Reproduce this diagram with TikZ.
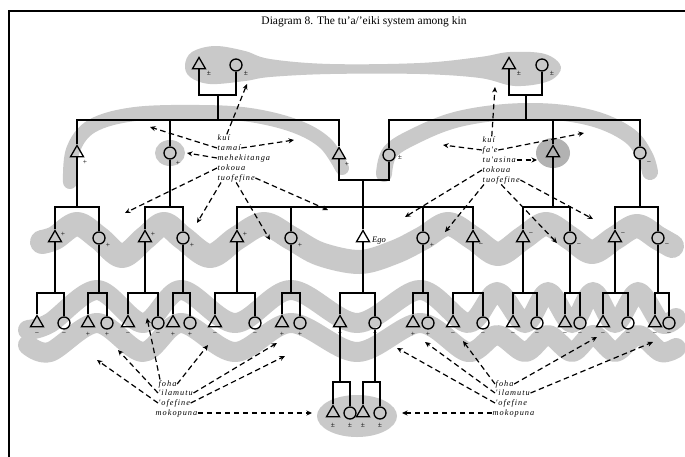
\documentclass[tikz,border=0pt]{standalone}
\usepackage{fontspec}
\setmainfont{Liberation Serif}
\newfontfamily\termfont[LetterSpace=12]{Liberation Serif}
\usetikzlibrary{shapes.geometric,arrows.meta}
\definecolor{halftone}{gray}{0.79}
\definecolor{halfdark}{gray}{0.70}
\begin{document}
\begin{tikzpicture}[x=1pt,y=-1pt,
  kin/.style={line width=1.4pt},
  person/.style={draw, line width=1.3pt, inner sep=0pt},
  male/.style={person, regular polygon, regular polygon sides=3, minimum size=15pt},
  female/.style={person, circle, minimum size=12pt},
  refarrow/.style={line width=1.2pt, dash pattern=on 5.5pt off 3.5pt, -{Stealth[length=5.5pt,width=5pt]}},
  term/.style={font=\termfont\itshape\fontsize{8.3}{9}\selectfont, inner sep=0.5pt, anchor=west},
  sgn/.style={font=\fontsize{7.5}{7.5}\selectfont, inner sep=0pt},
  band/.style={draw=halftone, line cap=round, line join=round},
]
\useasboundingbox (0,0) rectangle (685,456);
\fill[white] (0,0) rectangle (685,456);
\draw[line width=2.2pt] (9,457) -- (9,11) -- (686,11);

\node[font=\fontsize{11.5}{12}\selectfont] (title) at (364,22) {Diagram 8. The tu'a/'eiki system among kin};

% ---------- halftone groupings ----------
\fill[halftone] plot[smooth cycle, tension=0.6] coordinates {
  (185,65) (192,52) (215,46) (245,51) (270,59) (330,64) (420,63) (480,57) (510,52)
  (545,54) (561,67) (549,81) (515,86) (480,78) (420,74) (330,74) (270,77) (245,81)
  (210,84) (190,77)};
\draw[band, line width=14pt] plot[smooth, tension=0.6] coordinates {
  (70,182) (73,150) (92,126) (135,114) (200,112) (250,115) (295,126) (325,143) (342,168)};
\draw[band, line width=16pt] plot[smooth, tension=0.6] coordinates {
  (384,174) (390,152) (415,136) (455,120) (505,112) (555,112) (598,120) (630,136) (645,156) (650,172)};
\fill[halftone] (170,153) ellipse [x radius=15, y radius=13];
\fill[halfdark] (553,153) ellipse [x radius=17, y radius=15];
\draw[band, line width=24pt] plot[smooth, tension=0.55] coordinates {
  (42,242) (55,238) (77,224) (99,238) (122,256) (145,238) (164,224) (183,238) (210,256)
  (237,238) (264,224) (291,238) (320,254) (360,262) (395,252) (423,238) (448,224) (473,238)
  (498,254) (523,238) (546,224) (570,238) (592,252) (615,238) (637,226) (658,238) (672,246)};
\draw[band, line width=20pt] plot[smooth, tension=0.55] coordinates {
  (28,330) (50,323) (97,290) (143,323) (181,290) (235,323) (291,290) (357,323) (420,290)
  (468,323) (497,292) (525,323) (548,292) (572,323) (593,292) (615,323) (638,292) (661,323) (676,318)};
\draw[band, line width=20pt] plot[smooth, tension=0.55] coordinates {
  (28,345) (50,352) (97,323) (143,352) (181,323) (235,352) (291,323) (357,352) (420,323)
  (468,352) (497,335) (525,352) (548,335) (572,352) (593,335) (615,352) (638,335) (661,352) (676,348)};
\fill[halftone] (357,416) ellipse [x radius=40, y radius=21];

% ---------- generation 1 ----------
\node[male] (gfL) at (199,65) {};
\node[female] (gmL) at (236,65) {};
\node[male] (gfR) at (509,65) {};
\node[female] (gmR) at (542,65) {};
\node[sgn] (gfL-s) at (209,73) {±};
\node[sgn] (gmL-s) at (246,73) {±};
\node[sgn] (gfR-s) at (519,73) {±};
\node[sgn] (gmR-s) at (552,73) {±};
\coordinate (mL) at (218,95);
\coordinate (mR) at (526,95);
\coordinate (sL) at (218,120);
\coordinate (sR) at (526,120);
\draw[kin] (gfL.south) |- (mL) -| (gmL.south);
\draw[kin] (gfR.south) |- (mR) -| (gmR.south);
\draw[kin] (mL) -- (sL);
\draw[kin] (mR) -- (sR);

% ---------- generation 2 ----------
\node[male] (p1) at (77,153) {};
\node[female] (p2) at (170,153) {};
\node[male] (fa) at (339,155) {};
\node[female] (mo) at (389,155) {};
\node[male] (p5) at (553,153) {};
\node[female] (p6) at (640,153) {};
\node[sgn] (p1-s) at (85,162) {+};
\node[sgn] (p2-s) at (178,163) {+};
\node[sgn] (fa-s) at (347,164) {+};
\node[sgn] (mo-s) at (400,157) {±};
\node[sgn] (p6-s) at (649,163) {−};
\draw[kin] (p1.north) |- (sL) -| (fa.north);
\draw[kin] (p2.north) -- (p2.north |- sL);
\draw[kin] (mo.north) |- (sR) -| (p6.north);
\draw[kin] (p5.north) -- (p5.north |- sR);

% ---------- generation 3 ----------
\foreach \n/\x in {a1/55, b1/145, e1/237, ego/363, e5/473, f1/523, g1/615}
  \node[male] (\n) at (\x,238) {};
\foreach \n/\x in {a2/99, b2/183, e2/291, e4/423, f2/570, g2/658}
  \node[female] (\n) at (\x,238) {};
\foreach \n/\x/\y/\s in {a1/63/234/+, a2/108/245/+, b1/153/234/+, b2/192/245/+,
    e1/245/234/+, e2/300/245/+, e4/432/245/+, e5/481/245/−, f1/531/234/−,
    f2/579/245/−, g1/623/234/−, g2/667/245/−}
  \node[sgn] (\n-s) at (\x,\y) {\s};
\node[font=\itshape\fontsize{8.5}{9}\selectfont, anchor=west, inner sep=0pt] (egolabel) at (372,241) {Ego};

\coordinate (j1) at (77,207);
\coordinate (j2) at (170,207);
\coordinate (mP) at (363,180);
\coordinate (jE) at (363,207);
\coordinate (j5) at (553,207);
\coordinate (j6) at (640,207);
\draw[kin] (p1.south) -- (j1);
\draw[kin] (a1.north) |- (j1) -| (a2.north);
\draw[kin] (p2.south) -- (j2);
\draw[kin] (b1.north) |- (j2) -| (b2.north);
\draw[kin] (fa.south) |- (mP) -| (mo.south);
\draw[kin] (mP) -- (ego.north);
\draw[kin] (e1.north) |- (jE) -| (e5.north);
\draw[kin] (e2.north) -- (e2.north |- jE);
\draw[kin] (e4.north) -- (e4.north |- jE);
\draw[kin] (p5.south) -- (j5);
\draw[kin] (f1.north) |- (j5) -| (f2.north);
\draw[kin] (p6.south) -- (j6);
\draw[kin] (g1.north) |- (j6) -| (g2.north);

% ---------- generation 4 ----------
\foreach \n/\x in {k1/37, k3/88, k5/128, k7/173, k9/215, k11/282, k13/340,
    k15/413, k17/453, k19/513, k21/565, k23/603, k25/655}
  \node[male] (\n) at (\x,323) {};
\foreach \n/\x in {k2/64, k4/107, k6/158, k8/190, k10/255, k12/300, k14/375,
    k16/428, k18/483, k20/537, k22/580, k24/628, k26/669}
  \node[female] (\n) at (\x,323) {};
\foreach \n/\x/\s in {k1/37/−, k2/64/−, k3/88/+, k4/107/+, k5/128/−, k6/158/−,
    k7/173/+, k8/190/+, k9/215/−, k10/255/−, k11/282/+, k12/300/+, k13/340/−,
    k14/375/−, k15/413/+, k16/428/+, k17/453/−, k18/483/−, k19/513/−, k20/537/−,
    k21/565/−, k22/580/−, k23/603/−, k24/628/−, k25/655/−, k26/669/−}
  \node[sgn] (\n-s) at (\x,334) {\s};
\coordinate (r4) at (0,293);
\foreach \p/\m/\f in {a1/k1/k2, a2/k3/k4, b1/k5/k6, b2/k7/k8, e1/k9/k10, e2/k11/k12,
    ego/k13/k14, e4/k15/k16, e5/k17/k18, f1/k19/k20, f2/k21/k22, g1/k23/k24, g2/k25/k26} {
  \coordinate (\p-j) at (\p.south |- r4);
  \draw[kin] (\p.south) -- (\p-j);
  \draw[kin] (\m.north) |- (\p-j) -| (\f.north);
}

% ---------- generation 5 ----------
\node[male] (m1) at (333,413) {};
\node[female] (m2) at (350,413) {};
\node[male] (m3) at (363,413) {};
\node[female] (m4) at (380,413) {};
\foreach \n/\x in {m1/333, m2/350, m3/363, m4/380}
  \node[sgn] (\n-s) at (\x,425) {±};
\coordinate (r5) at (0,382);
\foreach \p/\m/\f in {k13/m1/m2, k14/m3/m4} {
  \coordinate (\p-j) at (\p.south |- r5);
  \draw[kin] (\p.south) -- (\p-j);
  \draw[kin] (\m.north) |- (\p-j) -| (\f.north);
}

% ---------- kin terms ----------
\node[term] (tl1) at (217,138) {kuí};
\node[term] (tl2) at (217,148) {tamaí};
\node[term] (tl3) at (217,158) {mehekitanga};
\node[term] (tl4) at (217,168) {tokoua};
\node[term] (tl5) at (217,178) {tuofefine};
\node[term] (tr1) at (482,140) {kuí};
\node[term] (tr2) at (482,150) {fa'e};
\node[term] (tr3) at (482,160) {tu'asina};
\node[term] (tr4) at (482,170) {tokoua};
\node[term] (tr5) at (482,180) {tuofefine};
\node[term] (bl1) at (158,384) {foha};
\node[term] (bl2) at (158,393) {'ilamutu};
\node[term] (bl3) at (158,403) {'ofefine};
\node[term] (bl4) at (155,413) {mokopuna};
\node[term] (br1) at (495,384) {foha};
\node[term] (br2) at (495,393) {'ilamutu};
\node[term] (br3) at (495,403) {'ofefine};
\node[term] (br4) at (492,413) {mokopuna};

% arrow targets
\coordinate (xa1) at (247,84);
\coordinate (xa2) at (150,127);
\coordinate (xa3) at (294,140);
\coordinate (xa4) at (187,153);
\coordinate (xa5) at (125,213);
\coordinate (xa6) at (197,223);
\coordinate (xa7) at (270,240);
\coordinate (xa8) at (328,210);
\coordinate (xb1) at (495,87);
\coordinate (xb2) at (443,145);
\coordinate (xb3) at (584,133);
\coordinate (xb4) at (537,160);
\coordinate (xb5) at (405,217);
\coordinate (xb6) at (445,232);
\coordinate (xb7) at (557,243);
\coordinate (xb8) at (593,219);
\coordinate (xc1) at (97,360);
\coordinate (xc2) at (118,350);
\coordinate (xc3) at (147,318);
\coordinate (xc4) at (208,345);
\coordinate (xc5) at (277,343);
\coordinate (xc6) at (285,356);
\coordinate (xc7) at (312,413);
\coordinate (xd1) at (397,348);
\coordinate (xd2) at (425,342);
\coordinate (xd3) at (463,341);
\coordinate (xd4) at (597,337);
\coordinate (xd5) at (653,342);
\coordinate (xd6) at (402,413);

\draw[refarrow] ([xshift=3pt]tl1.north) -- (xa1);
\draw[refarrow] (tl2.west) -- (xa2);
\draw[refarrow] (tl2.east) -- (xa3);
\draw[refarrow] (tl3.west) -- (xa4);
\draw[refarrow] (tl4.west) -- (xa5);
\draw[refarrow] ([xshift=4pt]tl5.south west) -- (xa6);
\draw[refarrow] (tl5.south) -- (xa7);
\draw[refarrow] (tl5.east) -- (xa8);
\draw[refarrow] ([xshift=3pt]tr1.north) -- (xb1);
\draw[refarrow] (tr2.west) -- (xb2);
\draw[refarrow] (tr2.east) -- (xb3);
\draw[refarrow] (tr3.east) -- (xb4);
\draw[refarrow] (tr4.west) -- (xb5);
\draw[refarrow] ([xshift=2pt]tr5.south west) -- (xb6);
\draw[refarrow] (tr5.south) -- (xb7);
\draw[refarrow] (tr5.east) -- (xb8);
\draw[refarrow] (bl3.west) -- (xc1);
\draw[refarrow] (bl2.west) -- (xc2);
\draw[refarrow] ([xshift=2pt]bl1.north west) -- (xc3);
\draw[refarrow] (bl1.east) -- (xc4);
\draw[refarrow] (bl2.east) -- (xc5);
\draw[refarrow] (bl3.east) -- (xc6);
\draw[refarrow] (bl4.east) -- (xc7);
\draw[refarrow] (br3.west) -- (xd1);
\draw[refarrow] (br2.west) -- (xd2);
\draw[refarrow] (br1.west) -- (xd3);
\draw[refarrow] (br1.east) -- (xd4);
\draw[refarrow] (br2.east) -- (xd5);
\draw[refarrow] (br4.west) -- (xd6);
\end{tikzpicture}
\end{document}
